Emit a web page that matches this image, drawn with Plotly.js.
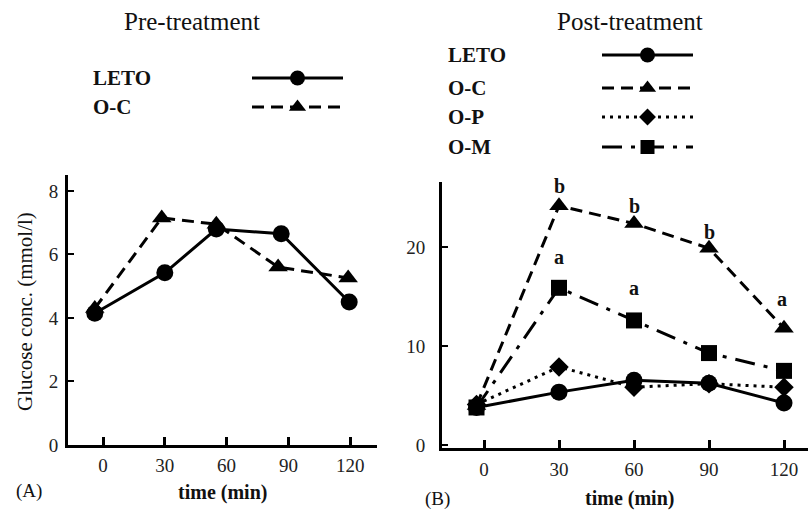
<!DOCTYPE html>
<html><head><meta charset="utf-8">
<script src="https://cdn.plot.ly/plotly-3.0.1.min.js"></script>
<style>html,body{margin:0;padding:0;background:#fff}#chart{width:808px;height:512px}</style>
</head><body><div id="chart"></div>
<script>
// ---------- data ----------
const timeTicks = [0, 30, 60, 90, 120];
// (A) Pre-treatment (marker times as placed in the original figure)
const preTimeLETO = [-4, 30, 55, 86.5, 119.5];
const preTimeOC   = [-4, 28.5, 55, 85, 119];
const preLETO = [4.15, 5.42, 6.8, 6.65, 4.5];
const preOC   = [4.3, 7.15, 6.95, 5.6, 5.26];
const preYTicks = [0, 2, 4, 6, 8];
// (B) Post-treatment
const postTime = [-3, 30, 60, 90, 120];
const postLETO = [3.8, 5.35, 6.55, 6.25, 4.25];
const postOC   = [4.0, 24.2, 22.4, 19.9, 11.8];
const postOP   = [4.1, 7.9, 5.85, 6.2, 5.85];
const postOM   = [3.8, 15.9, 12.6, 9.3, 7.5];
const postYTicks = [0, 10, 20];
// significance letters
const sigLetters = ['b', 'b', 'b', 'a', 'a', 'a'];
const sigTime    = [30, 60, 90, 30, 60, 119];
const sigLevel   = [26.2, 24.2, 21.5, 19.0, 15.9, 14.8];
// legend entries
const preGroups  = ['LETO', 'O-C'];
const postGroups = ['LETO', 'O-C', 'O-P', 'O-M'];

// ---------- styles ----------
const W = 808, H = 512;
const serif = 'Liberation Serif, Times New Roman, serif';
const style = {
  'LETO': {symbol: 'circle', dash: 'solid', size: 17},
  'O-C':  {symbol: 'triangle-up', dash: '12px,7px', size: 17},
  'O-P':  {symbol: 'diamond', dash: '3px,5px', size: 15},
  'O-M':  {symbol: 'square', dash: '20px,9px,4px,9px', size: 16}
};
function series(name, x, y, xa, ya) {
  const s = style[name];
  return {type: 'scatter', mode: 'lines+markers', x: x, y: y, xaxis: xa, yaxis: ya,
    name: name, showlegend: false, hoverinfo: 'skip',
    line: {color: '#000', width: 3, dash: s.dash},
    marker: {symbol: s.symbol, size: s.size, color: '#000', opacity: 1}};
}
const traces = [
  series('O-C', preTimeOC, preOC, 'x', 'y'),
  series('LETO', preTimeLETO, preLETO, 'x', 'y'),
  series('O-P', postTime, postOP, 'x2', 'y2'),
  series('LETO', postTime, postLETO, 'x2', 'y2'),
  series('O-C', postTime, postOC, 'x2', 'y2'),
  series('O-M', postTime, postOM, 'x2', 'y2')
];

// legend samples (drawn on a pixel-space overlay axis)
function legendSample(name, x0, x1, yRow) {
  const s = style[name];
  const xm = (x0 + x1) / 2;
  return {type: 'scatter', mode: 'lines+markers', x: [x0, xm, x1], y: [yRow, yRow, yRow],
    xaxis: 'x3', yaxis: 'y3', showlegend: false, hoverinfo: 'skip',
    line: {color: '#000', width: 3, dash: s.dash},
    marker: {symbol: s.symbol, size: [0, s.size - 2, 0], color: '#000', opacity: 1,
      line: {width: 0}}};
}
const preRows = [78, 107];
const postRows = [55, 88, 117, 147];
preGroups.forEach((g, i) => traces.push(legendSample(g, 252, 343, preRows[i])));
postGroups.forEach((g, i) => traces.push(legendSample(g, 602, 693, postRows[i])));

// ---------- annotations ----------
const P = (px, py) => ({x: px / W, y: 1 - py / H, xref: 'paper', yref: 'paper'});
const ann = [];
function txt(px, py, text, size, opts) {
  ann.push(Object.assign(P(px, py), {text: text, showarrow: false,
    font: {family: serif, size: size, color: '#111'}, xanchor: 'center', yanchor: 'middle'}, opts || {}));
}
txt(192, 21, 'Pre-treatment', 25);
txt(630, 21, 'Post-treatment', 25);
preGroups.forEach((g, i) => txt(91, preRows[i], '<b>' + g + '</b>', 21, {xanchor: 'left'}));
postGroups.forEach((g, i) => txt(446, postRows[i], '<b>' + g + '</b>', 21, {xanchor: 'left'}));
txt(25, 312, 'Glucose conc. (mmol/l)', 21, {textangle: -90});
txt(222, 492, '<b>time (min)</b>', 20);
txt(629, 498, '<b>time (min)</b>', 20);
txt(29, 491, '(A)', 19);
txt(437, 499, '(B)', 19);
sigLetters.forEach((l, i) => ann.push({x: sigTime[i], y: sigLevel[i], xref: 'x2', yref: 'y2',
  text: '<b>' + l + '</b>', showarrow: false, xanchor: 'center', yanchor: 'middle',
  font: {family: serif, size: 20, color: '#111'}}));

// ---------- axes ----------
const tickFont = {family: serif, size: 19, color: '#222'};
function axis(extra) {
  return Object.assign({showgrid: false, zeroline: false, showline: true, linecolor: '#000',
    linewidth: 3, ticks: 'inside', tickcolor: '#000', tickfont: tickFont, fixedrange: true}, extra);
}
const layout = {
  width: W, height: H, margin: {l: 0, r: 0, t: 0, b: 0},
  paper_bgcolor: '#fff', plot_bgcolor: 'rgba(0,0,0,0)', showlegend: false,
  xaxis: axis({domain: [68 / W, 377 / W], anchor: 'y', range: [-17, 133], tickvals: timeTicks,
    ticklen: 8, tickwidth: 3, ticklabelstandoff: 1}),
  yaxis: axis({domain: [67 / H, 337 / H], anchor: 'x', range: [0, 8.5], tickvals: preYTicks,
    ticklen: 6, tickwidth: 2, ticklabelstandoff: 3}),
  xaxis2: axis({domain: [442 / W, 1], anchor: 'y2', range: [-16.8, 129.6], tickvals: timeTicks,
    ticklen: 8, tickwidth: 3, ticklabelstandoff: 2}),
  yaxis2: axis({domain: [64 / H, 330 / H], anchor: 'x2', range: [-0.3, 26.6], tickvals: postYTicks,
    ticklen: 6, tickwidth: 2, ticklabelstandoff: 10}),
  xaxis3: {domain: [0, 1], anchor: 'y3', range: [0, W], visible: false, fixedrange: true},
  yaxis3: {domain: [0, 1], anchor: 'x3', range: [H, 0], visible: false, fixedrange: true},
  annotations: ann
};
Plotly.newPlot('chart', traces, layout, {staticPlot: true, displayModeBar: false});
</script></body></html>
